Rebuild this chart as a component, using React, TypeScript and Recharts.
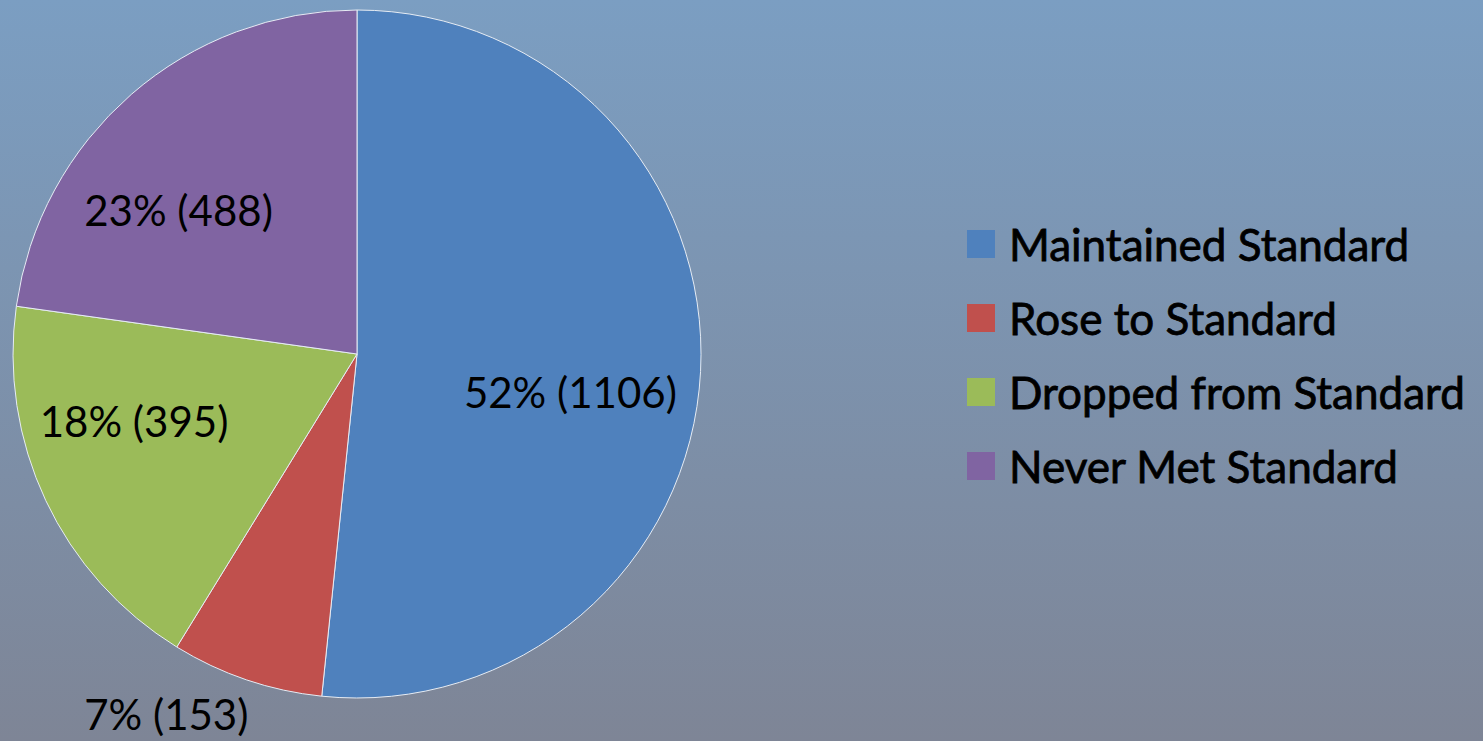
import { PieChart, Pie, Cell, Legend } from "recharts";

const categories = [
  "Maintained Standard",
  "Rose to Standard",
  "Dropped from Standard",
  "Never Met Standard",
];
const counts = [1106, 153, 395, 488];
const colors = ["#4F81BD", "#C0504D", "#9BBB59", "#8064A2"];

// where each label sits, relative to the slice middle
const labelRadius = [0.632, 1.195, 0.68, 0.66];
const labelTurn = [8.1, 8.9, 7.6, -10.8];

const data = categories.map((name, i) => ({ name, value: counts[i] }));

const FONT = "Lato, 'Open Sans', sans-serif";
const RAD = Math.PI / 180;

const renderLabel = (props: any) => {
  const { cx, cy, midAngle, outerRadius, percent, value, index } = props;
  const a = midAngle - labelTurn[index];
  const r = outerRadius * labelRadius[index];
  const x = cx + r * Math.cos(-a * RAD);
  const y = cy + r * Math.sin(-a * RAD);
  return (
    <text
      x={x}
      y={y}
      dy={-4}
      textAnchor="middle"
      dominantBaseline="central"
      fill="#000"
      fontFamily={FONT}
      fontSize={42}
    >
      {`${Math.round(percent * 100)}% (${value})`}
    </text>
  );
};

const renderLegend = (props: any) => {
  const payload = [...(props.payload || [])].sort(
    (a: any, b: any) => categories.indexOf(a.value) - categories.indexOf(b.value)
  );
  return (
    <div style={{ display: "flex", flexDirection: "column" }}>
      {payload.map((entry: any, i: number) => (
        <div
          key={`leg-${i}`}
          style={{ display: "flex", alignItems: "center", height: 74 }}
        >
          <span
            style={{
              width: 28,
              height: 28,
              background: entry.color,
              marginRight: 14,
              display: "inline-block",
            }}
          />
          <span
            style={{
              fontFamily: FONT,
              fontSize: 44,
              color: "#000",
              lineHeight: "44px",
              whiteSpace: "nowrap",
              WebkitTextStroke: "0.8px #000",
            }}
          >
            {entry.value}
          </span>
        </div>
      ))}
    </div>
  );
};

export default function App() {
  return (
    <div
      style={{
        position: "fixed",
        left: 0,
        top: 0,
        width: 1483,
        height: 741,
        background: "linear-gradient(180deg, #7B9EC2 0%, #7E8596 100%)",
        overflow: "hidden",
      }}
    >
      <PieChart
        width={1483}
        height={741}
        margin={{ top: 0, right: 0, bottom: 0, left: 0 }}
      >
        <Pie
          data={data}
          dataKey="value"
          nameKey="name"
          cx={357}
          cy={354}
          outerRadius={344}
          startAngle={90}
          endAngle={-270}
          stroke="#E6ECF4"
          strokeWidth={1}
          label={renderLabel}
          labelLine={false}
          isAnimationActive={false}
        >
          {data.map((entry, index) => (
            <Cell key={`cell-${index}`} fill={colors[index]} />
          ))}
        </Pie>
        <Legend
          content={renderLegend}
          wrapperStyle={{ position: "absolute", left: 967, top: 207, width: 516 }}
        />
      </PieChart>
    </div>
  );
}
